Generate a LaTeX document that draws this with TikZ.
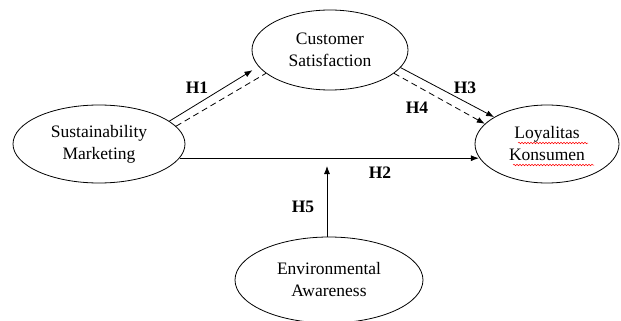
\documentclass[tikz,border=0pt]{standalone}
\usepackage{fontspec}
\setmainfont{Liberation Serif}
\usetikzlibrary{shapes.geometric,arrows.meta,decorations.pathmorphing,calc}
\begin{document}
\begin{tikzpicture}[x=1pt,y=-1pt,
  var/.style={draw,ellipse,line width=0.8pt,inner sep=0pt,align=center,
    font=\fontsize{17.5}{22}\selectfont},
  arr/.style={line width=0.8pt,-{Latex[length=8pt,width=6pt]}},
  darr/.style={arr,dash pattern=on 6pt off 4pt},
  dline/.style={line width=0.8pt,dash pattern=on 6pt off 4pt},
  hlab/.style={font=\fontsize{17.5}{20}\selectfont\bfseries,inner sep=0pt},
  spell/.style={red,line width=0.5pt,decorate,decoration={snake,amplitude=0.8pt,segment length=3pt}}]
\useasboundingbox (0,0) rectangle (621,321);
\node[var,minimum width=156pt,minimum height=80pt] (cs) at (330,50) {Customer\\Satisfaction};
\node[var,minimum width=172pt,minimum height=78pt] (sm) at (99,144) {Sustainability\\Marketing};
\node[var,minimum width=144pt,minimum height=78pt] (lk) at (547,144) {Loyalitas\\Konsumen};
\node[var,minimum width=188pt,minimum height=86pt] (ea) at (329,280) {Environmental\\Awareness};
% H1
\draw[arr,shorten >=7pt] (sm.18) -- (cs.193);
\draw[dline] (sm.13) -- (cs.200);
% H3, H4
\draw[arr] (cs.346) -- (lk.153);
\draw[darr] (cs.340) -- (lk.162);
% H2
\draw[arr] (sm.-10) -- (sm.-10 -| lk.191.5);
% H5
\coordinate (h5end) at (327,166);
\draw[arr] (ea.north -| h5end) -- (h5end);
% labels
\node[hlab] (h1) at (197,88) {H1};
\node[hlab] (h3) at (465,88) {H3};
\node[hlab] (h4) at (417,108) {H4};
\node[hlab] (h2) at (380,173) {H2};
\node[hlab] (h5) at (303,207) {H5};
% spell-check underline
\draw[spell] ($(lk.center)+(-29,-1)$) -- ++(70,0);
\draw[spell] ($(lk.center)+(-34,21)$) -- ++(81,0);
\end{tikzpicture}
\end{document}
